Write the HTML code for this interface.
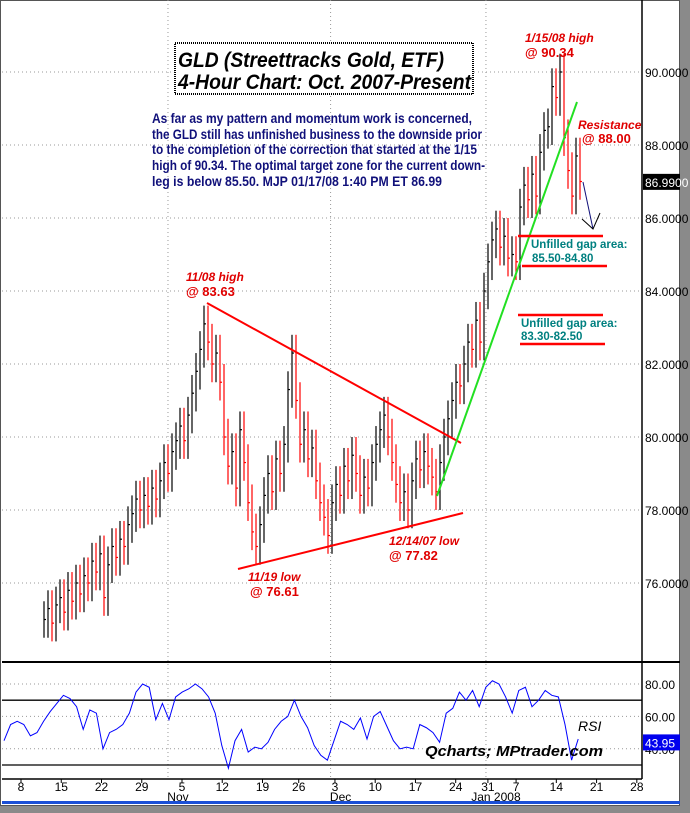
<!DOCTYPE html>
<html><head><meta charset="utf-8"><style>
html,body{margin:0;padding:0;background:#fff;}
svg{display:block;}
text{font-family:"Liberation Sans",sans-serif;}
</style></head><body>
<svg id="chart" width="690" height="813" viewBox="0 0 690 813" xmlns="http://www.w3.org/2000/svg">
<rect x="0" y="0" width="690" height="813" fill="#fff"/>
<rect x="680" y="0" width="10" height="813" fill="#8a8a8a"/>
<rect x="0" y="806" width="690" height="7" fill="#8a8a8a"/>
<rect x="0.5" y="0.5" width="679" height="805" fill="none" stroke="#555" stroke-width="1"/>
<rect x="2" y="801" width="678" height="3" fill="#1a4fd6"/>
<g id="grid"></g>
<line x1="642" y1="0" x2="642" y2="779" stroke="#000" stroke-width="1.5"/>
<line x1="2" y1="662" x2="680" y2="662" stroke="#000" stroke-width="2"/>
<line x1="2" y1="779" x2="642" y2="779" stroke="#000" stroke-width="1.5"/>
<g id="ylabels"></g>
<g id="bars"></g>
<g id="rsi"></g>
<g id="xlabels"></g>

<rect x="175" y="43" width="298" height="51" fill="#fff" stroke="#000" stroke-width="2" stroke-dasharray="1 1"/>
<text x="178" y="67" font-size="21" font-weight="bold" font-style="italic" textLength="266" lengthAdjust="spacingAndGlyphs">GLD (Streettracks Gold, ETF)</text>
<text x="178" y="89" font-size="21" font-weight="bold" font-style="italic" textLength="293" lengthAdjust="spacingAndGlyphs">4-Hour Chart: Oct. 2007-Present</text>
<g fill="#10107a" font-size="14" font-weight="bold">
<text x="152" y="123" textLength="320" lengthAdjust="spacingAndGlyphs">As far as my pattern and momentum work is concerned,</text>
<text x="152" y="139" textLength="330" lengthAdjust="spacingAndGlyphs">the GLD still has unfinished business to the downside prior</text>
<text x="152" y="154" textLength="325" lengthAdjust="spacingAndGlyphs">to the completion of the correction that started at the 1/15</text>
<text x="152" y="170" textLength="333" lengthAdjust="spacingAndGlyphs">high of 90.34. The optimal target zone for the current down-</text>
<text x="152" y="186" textLength="290" lengthAdjust="spacingAndGlyphs">leg is below 85.50.  MJP 01/17/08  1:40 PM ET  86.99</text>
</g>
<g fill="#e00000" font-size="12" font-weight="bold" font-style="italic">
<text x="525" y="42">1/15/08 high</text><text x="525" y="57" font-style="normal" font-family="Liberation Serif, serif" font-size="13">@ 90.34</text>
<text x="578" y="129">Resistance</text><text x="582" y="143" font-style="normal" font-family="Liberation Serif, serif" font-size="13">@ 88.00</text>
<text x="186" y="281">11/08 high</text><text x="186" y="296" font-style="normal" font-family="Liberation Serif, serif" font-size="13">@ 83.63</text>
<text x="389" y="545">12/14/07 low</text><text x="389" y="560" font-style="normal" font-family="Liberation Serif, serif" font-size="13">@ 77.82</text>
<text x="248" y="581">11/19 low</text><text x="250" y="596" font-style="normal" font-family="Liberation Serif, serif" font-size="13">@ 76.61</text>
</g>
<line x1="207" y1="303" x2="461" y2="443" stroke="#f00" stroke-width="2"/>
<line x1="238" y1="569" x2="463" y2="513" stroke="#f00" stroke-width="2"/>
<line x1="437" y1="496" x2="577" y2="102" stroke="#22e022" stroke-width="2"/>
<g>
<polyline points="583,182 593,229" fill="none" stroke="#10107a" stroke-width="1"/>
<polyline points="582,219 593,229 600,213" fill="none" stroke="#000" stroke-width="1"/>
</g>
<g stroke="#f00" stroke-width="2.5">
<line x1="518" y1="236" x2="603" y2="236"/><line x1="522" y1="266" x2="607" y2="266"/>
<line x1="518" y1="315" x2="603" y2="315"/><line x1="520" y1="344" x2="605" y2="344"/>
</g>
<g fill="#008080" font-size="11.5" font-weight="bold">
<text x="531" y="248">Unfilled gap area:</text><text x="532" y="262">85.50-84.80</text>
<text x="521" y="327">Unfilled gap area:</text><text x="521" y="340">83.30-82.50</text>
</g>
<text x="578" y="731" font-size="14" font-style="italic">RSI</text>
<text x="425" y="756" font-size="15" font-weight="bold" font-style="italic" textLength="178" lengthAdjust="spacingAndGlyphs">Qcharts; MPtrader.com</text>
</svg>
<script>
const priceTicks=[90,88,86,84,82,80,78,76];
const closes=[75.0,75.3,74.9,75.4,75.6,75.2,75.8,75.5,76.0,75.7,76.2,76.0,76.6,76.3,76.8,75.6,76.5,77.0,76.7,77.2,77.0,77.6,77.9,78.3,78.0,78.4,78.1,78.6,78.3,78.8,79.3,79.0,79.6,79.9,80.3,79.9,80.6,81.2,81.8,82.4,83.1,82.6,82.0,82.3,81.5,80.0,79.2,79.6,78.6,80.2,79.3,78.2,77.4,77.0,77.6,78.4,79.0,78.5,79.4,79.0,79.8,81.3,82.3,81.0,79.8,80.2,79.4,79.7,78.8,78.2,77.8,77.3,78.2,78.7,78.4,79.2,78.8,79.5,79.0,78.4,78.9,78.6,79.3,79.8,80.2,80.6,80.0,79.3,78.7,78.2,78.5,78.0,78.8,79.4,79.1,79.6,79.2,78.9,78.5,79.3,80.0,80.5,81.0,81.5,81.4,82.0,82.6,82.4,83.2,82.6,84.0,84.8,85.4,85.7,85.2,85.5,84.9,85.0,84.8,86.3,86.9,86.5,87.2,86.6,87.8,88.4,88.5,89.6,89.3,90.0,88.2,87.3,86.6,87.7,87.0];
const rsiValues=[45,55,57,55,48,50,57,63,68,73,71,66,52,64,62,40,50,52,55,62,75,80,78,58,68,58,72,75,77,80,77,72,62,42,28,45,52,38,41,40,44,52,57,60,70,60,53,42,36,33,45,57,55,52,59,46,60,63,54,45,40,41,40,55,53,50,44,62,65,75,70,76,66,78,82,80,72,62,76,78,66,70,76,73,72,55,33,46];
const rsiTicks=[80,60,40];
const rsiLevels=[70,30];
const dayLabels=["8","15","22","29","5","12","19","26","3","10","17","24","31","7","14","21","28"];
const dayPos=[0,5,10,15,20,25,30,34.5,39,44,49,54,58,61.5,66.5,71.5,76.5];
const monthLabels=["Nov","Dec","Jan 2008"];
const monthPos=[19.5,39.7,59];
const curPrice=86.99, curRsi=43.95;
const NS="http://www.w3.org/2000/svg";
const py=p=>72+(90-p)*36.5;
const bx=i=>44+i*4;
const ry=v=>684+(80-v)*1.62;
const rx=i=>4+i*6.6;
const dx=d=>21+d*8.05;
function mk(tag,attrs,parent,txt){const e=document.createElementNS(NS,tag);for(const k in attrs)e.setAttribute(k,attrs[k]);if(txt!==undefined)e.textContent=txt;parent.appendChild(e);return e;}
const grid=document.getElementById('grid'),yl=document.getElementById('ylabels');
priceTicks.forEach(p=>{
 const l=mk('line',{x1:2,x2:642,y1:py(p),y2:py(p),stroke:'#999','stroke-dasharray':'1 3'},grid);
 
 
 const t=mk('text',{x:645,y:py(p)+5,'font-size':12},yl,p.toFixed(4));
 
 
});
monthPos.forEach(m=>{
 const l=mk('line',{x1:dx(m)-10,x2:dx(m)-10,y1:0,y2:779,stroke:'#999','stroke-dasharray':'1 3'},grid);
 
 
});
const cb=mk('rect',{x:643,y:py(curPrice)-8,width:37,height:16,fill:'#000'},yl);


const ct=mk('text',{x:645,y:py(curPrice)+5,'font-size':12,fill:'#fff'},yl,curPrice.toFixed(4));


const bars=document.getElementById('bars');
closes.forEach((c,i)=>{
 const prev=i?closes[i-1]:c;
 const hi=Math.max(prev,c)+0.5, lo=Math.min(prev,c)-0.5;
 const col=c<prev?'#f00':'#000';
 const g=mk('g',{stroke:col,'stroke-width':1.2},bars);
 
 
 mk('line',{x1:bx(i),x2:bx(i),y1:py(hi),y2:Math.min(py(lo),661)},g);
 mk('line',{x1:bx(i),x2:bx(i)+2,y1:py(c),y2:py(c)},g);
});
const rsi=document.getElementById('rsi');
rsiTicks.forEach(v=>{
 const l=mk('line',{x1:2,x2:642,y1:ry(v),y2:ry(v),stroke:'#999','stroke-dasharray':'1 3'},rsi);
 
 
 const t=mk('text',{x:645,y:ry(v)+5,'font-size':12},rsi,v.toFixed(2));
 
 
});
rsiLevels.forEach(v=>{
 const l=mk('line',{x1:2,x2:642,y1:ry(v),y2:ry(v),stroke:'#000','stroke-width':1.3},rsi);
 
 
});
const pl=mk('polyline',{points:rsiValues.map((v,i)=>rx(i)+','+ry(v)).join(' '),fill:'none',stroke:'#0000ff','stroke-width':1},rsi);


const rb=mk('rect',{x:643,y:ry(curRsi)-8,width:37,height:16,fill:'#0000ee'},rsi);


const rt=mk('text',{x:645,y:ry(curRsi)+5,'font-size':12,fill:'#fff'},rsi,curRsi.toFixed(2));


const xl=document.getElementById('xlabels');
dayLabels.forEach((d,i)=>{
 const t=mk('text',{x:dx(dayPos[i]),y:791,'font-size':12,'text-anchor':'middle'},xl,d);
 
 
 const tk=mk('line',{x1:dx(dayPos[i]),x2:dx(dayPos[i]),y1:779,y2:783,stroke:'#000'},xl);
 
 
});
monthLabels.forEach((m,i)=>{
 const t=mk('text',{x:dx(monthPos[i]),y:801,'font-size':12,'text-anchor':'middle'},xl,m);
 
 
});
</script>
</body></html>
